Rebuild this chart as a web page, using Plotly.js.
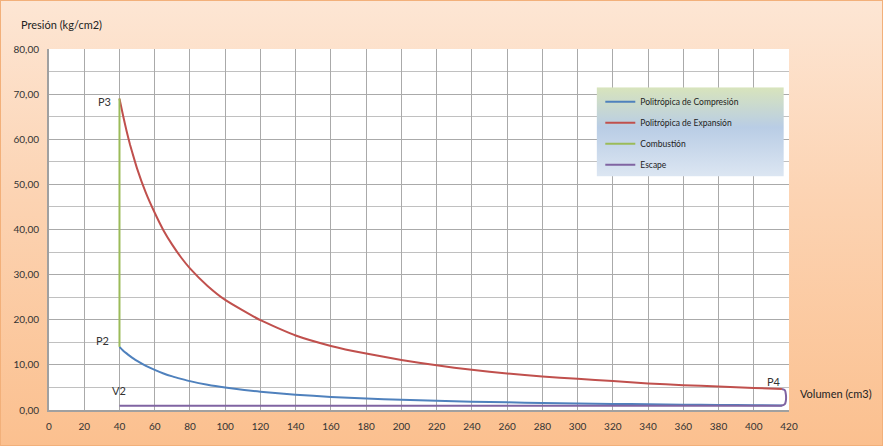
<!DOCTYPE html>
<html>
<head>
<meta charset="utf-8">
<script src="https://cdn.plot.ly/plotly-3.0.1.min.js"></script>
<style>
html,body{margin:0;padding:0;}
#wrap{position:absolute;left:0;top:0;width:881px;height:444px;border:1px solid #f2b07a;
background:linear-gradient(to bottom,#fde6d4 0%,#fcd3b2 45%,#fbc08f 100%);}
#chart{width:881px;height:444px;}
</style>
</head>
<body>
<div id="wrap"><div id="chart"></div></div>
<script>
// Politrópica de Compresión
const compV = [40,42,44,46,48,50,55,60,65,70,75,80,90,100,120,140,160,180,200,220,240,260,280,300,320,340,360,380,400,416];
const compP = [14.0,13.2,12.55,11.95,11.4,10.9,9.8,8.9,8.1,7.45,6.9,6.4,5.6,5.0,4.05,3.4,2.9,2.55,2.27,2.03,1.85,1.7,1.56,1.45,1.35,1.26,1.19,1.12,1.06,1.02];
// Politrópica de Expansión
const expV = [40,42,44,46,48,50,55,60,65,70,75,80,90,100,120,140,160,180,200,220,240,260,280,300,320,340,360,380,400,416];
const expP = [69.0,65.3,61.9,58.8,56.1,53.5,48.1,43.7,39.8,36.6,33.8,31.4,27.5,24.4,19.9,16.5,14.2,12.5,11.1,9.9,8.9,8.1,7.4,6.9,6.4,5.9,5.5,5.2,4.9,4.65];
// Combustión
const combV = [40,40];
const combP = [14.0,69.0];
// Escape
const escV = [416,417.6,418.2,418.2,417.6,416,413,40];
const escP = [4.65,4.4,3.5,2.0,1.3,1.0,0.95,0.95];

const xTicks = [0,20,40,60,80,100,120,140,160,180,200,220,240,260,280,300,320,340,360,380,400,420];
const yTicks = [0,10,20,30,40,50,60,70,80];

const pointLabels = ['P3','P2','V2','P4','V1'];
const labelX = [31.5,30.4,39.5,411.6,417];
const labelY = [68.4,15.3,4.4,6.4,-2.2];

const legendSvg = 'data:image/svg+xml;charset=utf-8,' + encodeURIComponent(
'<svg xmlns="http://www.w3.org/2000/svg" width="200" height="100" preserveAspectRatio="none">' +
'<defs><linearGradient id="g" x1="0" y1="0" x2="0" y2="1">' +
'<stop offset="0" stop-color="#d8e4bc"/><stop offset="0.45" stop-color="#b9cde5"/><stop offset="1" stop-color="#dce6f2"/>' +
'</linearGradient></defs><rect width="200" height="100" fill="url(#g)"/></svg>');

const traces = [
 {x: compV, y: compP, name: 'Politrópica de Compresión', mode: 'lines', line: {color: '#4f81bd', width: 2, shape: 'spline', smoothing: 0.5}, legendgroup: 'a'},
 {x: expV, y: expP, name: 'Politrópica de Expansión', mode: 'lines', line: {color: '#c0504d', width: 2, shape: 'spline', smoothing: 0.5}, legendgroup: 'b'},
 {x: combV, y: combP, name: 'Combustión', mode: 'lines', line: {color: '#9bbb59', width: 2}, legendgroup: 'c'},
 {x: escV, y: escP, name: 'Escape', mode: 'lines', line: {color: '#8064a2', width: 2, shape: 'spline', smoothing: 0.8}, legendgroup: 'd'}
];

const ann = pointLabels.map((t,i)=>({x: labelX[i], y: labelY[i], xref:'x', yref:'y', text: t, showarrow:false,
  font:{family:'Lato, Open Sans, sans-serif', size:11, color:'#333'}}));
ann.push({xref:'paper', yref:'paper', x:-0.04, y:1.045, xanchor:'left', yanchor:'bottom', text:'Presión (kg/cm2)', showarrow:false,
  font:{family:'Lato, Open Sans, sans-serif', size:11, color:'#222'}});
ann.push({xref:'paper', yref:'y', x:1.012, y:3.6, xanchor:'left', yanchor:'middle', text:'Volumen (cm3)', showarrow:false,
  font:{family:'Lato, Open Sans, sans-serif', size:11, color:'#222'}});

const layout = {
  width: 881, height: 444,
  margin: {l: 48, r: 93, t: 48, b: 35, pad: 0},
  paper_bgcolor: 'rgba(0,0,0,0)',
  plot_bgcolor: '#ffffff',
  separators: ',.',
  showlegend: true,
  font: {family: 'Lato, Open Sans, sans-serif', size: 10, color: '#333'},
  xaxis: {range: [0, 420], tickvals: xTicks, ticktext: xTicks.map(String), showgrid: true, gridcolor: '#aaaaaa', gridwidth: 1,
    showline: true, linecolor: '#a0a0a0', linewidth: 2, ticks: '', zeroline: false, fixedrange: true,
    tickfont: {family: 'Lato, Open Sans, sans-serif', size: 10, color: '#333'}, ticklabelstandoff: 6},
  yaxis: {range: [0, 80], tickvals: yTicks, tickformat: '.2f', showgrid: true, gridcolor: '#aaaaaa', gridwidth: 1,
    minor: {dtick: 5, showgrid: true, gridcolor: '#c0c0c0', gridwidth: 1},
    showline: true, linecolor: '#a0a0a0', linewidth: 2, ticks: '', zeroline: false, fixedrange: true,
    tickfont: {family: 'Lato, Open Sans, sans-serif', size: 10, color: '#333'}, ticklabelstandoff: 6},
  legend: {x: 0.745, y: 0.894, xanchor: 'left', yanchor: 'top', bgcolor: 'rgba(0,0,0,0)', borderwidth: 0,
    font: {family: 'Lato, Open Sans, sans-serif', size: 8.5, color: '#222'}, tracegroupgap: 2, itemwidth: 30},
  images: [{source: legendSvg, xref: 'paper', yref: 'paper', x: 0.740, y: 0.894, sizex: 0.253, sizey: 0.247,
    xanchor: 'left', yanchor: 'top', sizing: 'stretch', layer: 'above'}],
  annotations: ann
};

Plotly.newPlot('chart', traces, layout, {displayModeBar: false, staticPlot: true});
</script>
</body>
</html>
